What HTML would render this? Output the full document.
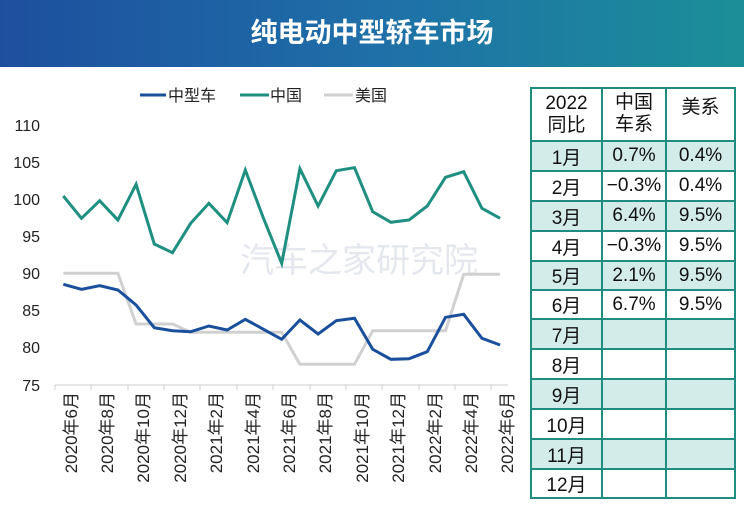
<!DOCTYPE html>
<html><head><meta charset="utf-8"><style>
body{margin:0;width:744px;height:518px;background:#fff;overflow:hidden;font-family:"Liberation Sans","Noto Sans CJK SC",sans-serif;position:relative}
.hd{position:absolute;left:0;top:0;width:744px;height:67px;background:linear-gradient(90deg,#1d4f9e 0%,#1f6fa8 50%,#1b8f98 100%);color:#fff;font-size:27px;font-weight:bold;text-align:center;line-height:67px}
table{position:absolute;left:530px;top:87px;border-collapse:collapse;font-size:19px;color:#111}
td{border:2px solid #1e8c80;padding:0;text-align:center;white-space:nowrap}
tr.s td{background:#d3ebe9}
</style></head><body>
<div class="hd">纯电动中型轿车市场</div>
<svg width="530" height="518" style="position:absolute;left:0;top:0" font-family="Liberation Sans, Noto Sans CJK SC, sans-serif">
<g font-size="16" fill="#222">
<line x1="140" y1="95" x2="166" y2="95" stroke="#1a4f9c" stroke-width="3"/><text x="168" y="101">中型车</text>
<line x1="240" y1="95" x2="269" y2="95" stroke="#1e8f80" stroke-width="3"/><text x="270" y="101">中国</text>
<line x1="324" y1="95" x2="353" y2="95" stroke="#d0d0d0" stroke-width="3"/><text x="355" y="101">美国</text>
</g>
<g font-size="16" fill="#222" text-anchor="end">
<text x="40" y="131">110</text><text x="40" y="168">105</text><text x="40" y="205">100</text><text x="40" y="242">95</text><text x="40" y="279">90</text><text x="40" y="316">85</text><text x="40" y="353">80</text><text x="40" y="391">75</text>
</g>
<text x="240" y="272" font-size="34" fill="#e4e7ee">汽车之家研究院</text>
<line x1="55" y1="385" x2="508" y2="385" stroke="#ccc" stroke-width="1"/>
<g stroke="#ccc"><line x1="55" y1="385" x2="55" y2="390"/><line x1="91" y1="385" x2="91" y2="390"/><line x1="128" y1="385" x2="128" y2="390"/><line x1="164" y1="385" x2="164" y2="390"/><line x1="200" y1="385" x2="200" y2="390"/><line x1="237" y1="385" x2="237" y2="390"/><line x1="273" y1="385" x2="273" y2="390"/><line x1="310" y1="385" x2="310" y2="390"/><line x1="346" y1="385" x2="346" y2="390"/><line x1="382" y1="385" x2="382" y2="390"/><line x1="419" y1="385" x2="419" y2="390"/><line x1="455" y1="385" x2="455" y2="390"/><line x1="491" y1="385" x2="491" y2="390"/></g>
<polyline fill="none" stroke="#d0d0d0" stroke-width="3" points="63.3,273.3 81.5,273.3 99.7,273.3 117.9,273.3 136.1,324 154.3,324 172.5,324 190.7,332.3 208.9,332.3 227.1,332.3 245.3,332.3 263.5,332.3 281.7,332.3 299.9,364.3 318.1,364.3 336.3,364.3 354.5,364.3 372.7,330.7 390.9,330.7 409.1,330.7 427.3,330.7 445.5,330.7 463.7,274.3 481.9,274.3 500.1,274.3"/>
<polyline fill="none" stroke="#1e8f80" stroke-width="3" points="63.3,196 81.5,218.3 99.7,200.7 117.9,220 136.1,184.3 154.3,244 172.5,252.7 190.7,223.3 208.9,203.3 227.1,222.7 245.3,170 263.5,218.3 281.7,263.3 299.9,168.7 318.1,206 336.3,170.7 354.5,167.7 372.7,211.7 390.9,222.3 409.1,220 427.3,206 445.5,177.3 463.7,171.7 481.9,208.3 500.1,218.3"/>
<polyline fill="none" stroke="#1a4f9c" stroke-width="3" points="63.3,284.3 81.5,289.3 99.7,285.7 117.9,290 136.1,305 154.3,327.7 172.5,330.7 190.7,331.7 208.9,326 227.1,330 245.3,319.3 263.5,329.3 281.7,339.3 299.9,320 318.1,334 336.3,320.7 354.5,318.3 372.7,349.3 390.9,359.3 409.1,358.7 427.3,351.7 445.5,317.3 463.7,314.3 481.9,338.3 500.1,345"/>
<g font-size="17" fill="#222" text-anchor="end">
<text transform="translate(77,392) rotate(-90)">2020年6月</text>
<text transform="translate(113,392) rotate(-90)">2020年8月</text>
<text transform="translate(149,392) rotate(-90)">2020年10月</text>
<text transform="translate(186,392) rotate(-90)">2020年12月</text>
<text transform="translate(222,392) rotate(-90)">2021年2月</text>
<text transform="translate(259,392) rotate(-90)">2021年4月</text>
<text transform="translate(295,392) rotate(-90)">2021年6月</text>
<text transform="translate(331,392) rotate(-90)">2021年8月</text>
<text transform="translate(368,392) rotate(-90)">2021年10月</text>
<text transform="translate(404,392) rotate(-90)">2021年12月</text>
<text transform="translate(441,392) rotate(-90)">2022年2月</text>
<text transform="translate(477,392) rotate(-90)">2022年4月</text>
<text transform="translate(513,392) rotate(-90)">2022年6月</text>
</g>
</svg>
<table>
<tr style="height:53px"><td style="width:69px;line-height:22px">2022<br>同比</td><td style="width:62px;line-height:22px;vertical-align:top;padding-top:3px">中国<br>车系</td><td style="width:67px;vertical-align:top;padding-top:3px">美系</td></tr>
<tr class="s" style="height:30px"><td>1月</td><td>0.7%</td><td>0.4%</td></tr>
<tr style="height:30px"><td>2月</td><td>−0.3%</td><td>0.4%</td></tr>
<tr class="s" style="height:30px"><td>3月</td><td>6.4%</td><td>9.5%</td></tr>
<tr style="height:30px"><td>4月</td><td>−0.3%</td><td>9.5%</td></tr>
<tr class="s" style="height:29px"><td>5月</td><td>2.1%</td><td>9.5%</td></tr>
<tr style="height:29px"><td>6月</td><td>6.7%</td><td>9.5%</td></tr>
<tr class="s" style="height:30px"><td>7月</td><td></td><td></td></tr>
<tr style="height:30px"><td>8月</td><td></td><td></td></tr>
<tr class="s" style="height:30px"><td>9月</td><td></td><td></td></tr>
<tr style="height:30px"><td>10月</td><td></td><td></td></tr>
<tr class="s" style="height:30px"><td>11月</td><td></td><td></td></tr>
<tr style="height:29px"><td>12月</td><td></td><td></td></tr>
</table>
</body></html>
